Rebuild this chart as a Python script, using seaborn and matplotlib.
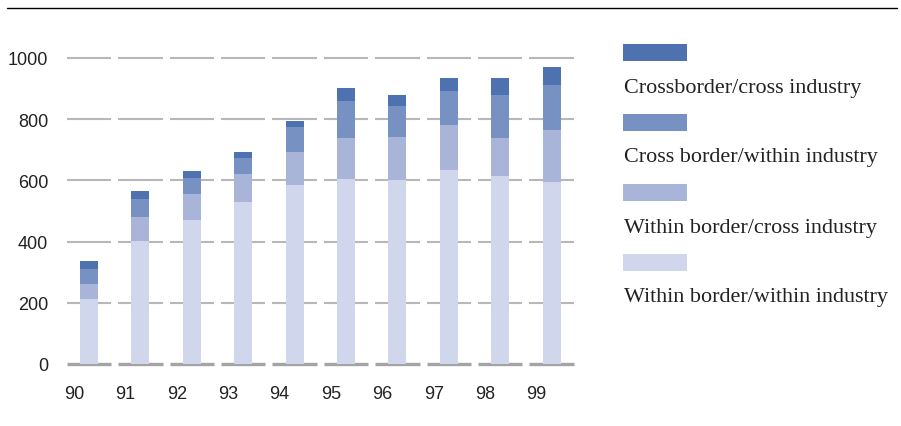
import matplotlib
matplotlib.use("Agg")
import matplotlib.pyplot as plt
import matplotlib.transforms as mtransforms
from matplotlib.patches import Rectangle
from matplotlib.lines import Line2D
import seaborn as sns
import pandas as pd
import numpy as np

# ---- data ----
years = ["90", "91", "92", "93", "94", "95", "96", "97", "98", "99"]
within_within = [211, 401, 472, 528, 584, 604, 600, 633, 616, 594]
within_cross = [52, 78, 82, 92, 108, 134, 141, 147, 122, 170]
cross_within = [49, 59, 53, 53, 82, 121, 102, 112, 141, 148]
cross_cross = [23, 26, 23, 19, 20, 43, 36, 43, 56, 59]

series_names = [
    "Within border/within industry",
    "Within border/cross industry",
    "Cross border/within industry",
    "Crossborder/cross industry",
]
series_colors = ["#D0D6EB", "#A8B4D8", "#7791C3", "#4E72B0"]
yticks = [0, 200, 400, 600, 800, 1000]

sns.set_theme(style="white")
plt.rcParams["font.family"] = ["Liberation Sans", "DejaVu Sans"]

fig = plt.figure(figsize=(9.01, 4.27), dpi=100)
ax = fig.add_axes([63.3 / 901, (427 - 365.0) / 427, 514.0 / 901, 306.0 * 1.05 / 427])

series = [within_within, within_cross, cross_within, cross_cross]
cum = np.cumsum(np.array(series), axis=0)
df = pd.DataFrame({"year": years})
for k in range(4):
    df[f"c{k}"] = cum[k]

# draw cumulative totals from the top down so the lower stacks overlay
for k in range(3, -1, -1):
    sns.barplot(data=df, x="year", y=f"c{k}", order=years, color=series_colors[k],
                saturation=1, width=0.35, ax=ax, zorder=3, linewidth=0, errorbar=None)

# segmented gridlines
for yv in yticks:
    col = "#A4A4A4" if yv == 0 else "#B8B8B8"
    lw = 2.4 if yv == 0 else 1.5
    ax.hlines([yv] * len(years), np.arange(len(years)) - 0.43, np.arange(len(years)) + 0.43,
              colors=col, linewidth=lw, zorder=1 if yv else 2, clip_on=False)

ax.set_xlim(-0.5, len(years) - 0.5)
ax.set_ylim(0, 1050)
ax.set_yticks(yticks)
ax.set_yticklabels([str(v) for v in yticks])
ax.set_xlabel("")
ax.set_ylabel("")
for s in ax.spines.values():
    s.set_visible(False)
ax.tick_params(axis="both", length=0, labelsize=13, colors="#222222")
ax.tick_params(axis="y", pad=11)
ax.tick_params(axis="x", pad=15)
offset = mtransforms.ScaledTranslation(-15 / 100, 0, fig.dpi_scale_trans)
for lab in ax.get_xticklabels():
    lab.set_transform(lab.get_transform() + offset)

# top rule
fig.add_artist(Line2D([7 / 901, 897 / 901], [1 - 9.3 / 427] * 2, color="black", lw=1.0))

# legend (patch above label)
legend_order = [3, 2, 1, 0]
for i, k in enumerate(legend_order):
    top = 45 + 70 * i
    fig.add_artist(Rectangle((623 / 901, 1 - (top + 17) / 427), 64 / 901, 17 / 427,
                             facecolor=series_colors[k], edgecolor="none",
                             transform=fig.transFigure))
    fig.text(624 / 901, 1 - (top + 47.5) / 427, series_names[k], ha="left", va="baseline",
             fontsize=15.9, color="#222222", family=["Liberation Serif", "DejaVu Serif"])

fig.savefig("out.png", dpi=100)
